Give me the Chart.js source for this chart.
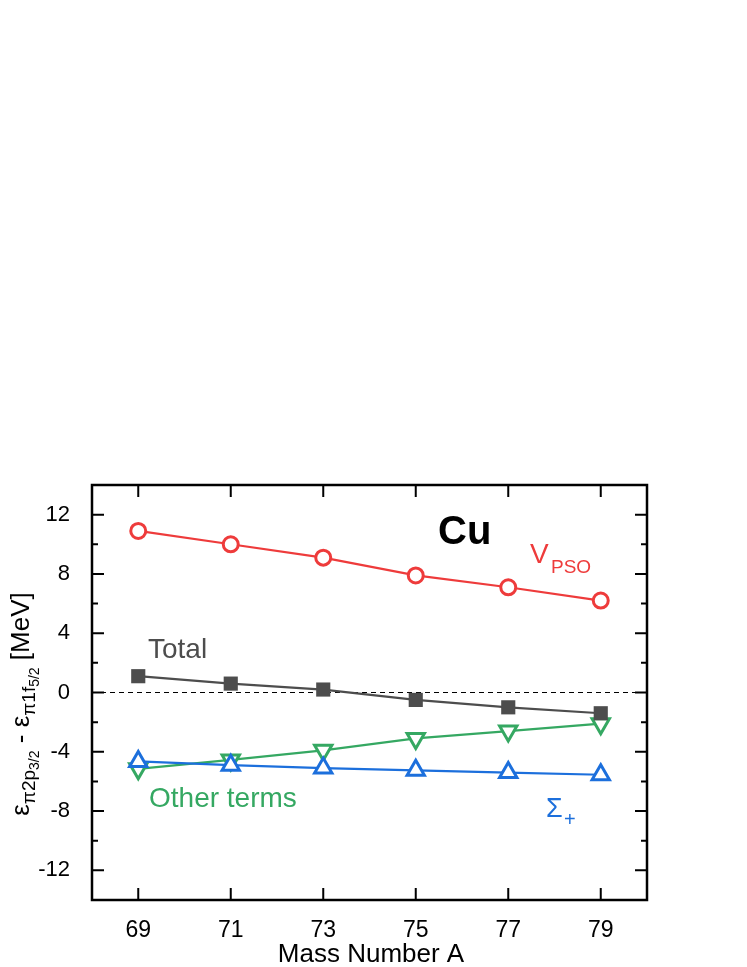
<!DOCTYPE html>
<html>
<head>
<meta charset="utf-8">
<script src="https://cdn.jsdelivr.net/npm/chart.js@4/dist/chart.umd.min.js"></script>
<style>
  html, body { margin: 0; padding: 0; background: #fff; }
  #wrap { width: 747px; height: 967px; }
</style>
</head>
<body>
<div id="wrap"><canvas id="myChart" width="747" height="967"></canvas></div>
<script>
// data
let massNumbers = [69, 71, 73, 75, 77, 79];
let vPso = [10.9, 10.0, 9.1, 7.9, 7.1, 6.2];
let total = [1.1, 0.6, 0.2, -0.5, -1.0, -1.4];
let otherTerms = [-5.15, -4.55, -3.9, -3.1, -2.6, -2.1];
let sigmaPlus = [-4.65, -4.9, -5.1, -5.25, -5.4, -5.55];

let yTickLabels = [-12, -8, -4, 0, 4, 8, 12];
let yMinorTicks = [-14, -10, -6, -2, 2, 6, 10, 14];

let red = '#ee3b3b';
let gray = '#4d4d4d';
let green = '#35a862';
let blue = '#1c6fdc';
let font = '"Liberation Sans", Arial, Helvetica, sans-serif';

function pts(ys) {
    return massNumbers.map((x, i) => ({x: x, y: ys[i]}));
}

// frame, inward ticks, zero line and the text labels
let decorations = {
    id: 'decorations',
    beforeDatasetsDraw(chart) {
        let ctx = chart.ctx;
        let a = chart.chartArea;
        let y0 = chart.scales.y.getPixelForValue(0);
        ctx.save();
        ctx.strokeStyle = '#000';
        ctx.lineWidth = 1;
        ctx.setLineDash([5, 4]);
        ctx.beginPath();
        ctx.moveTo(a.left, y0);
        ctx.lineTo(a.right, y0);
        ctx.stroke();
        ctx.restore();
    },
    afterDraw(chart) {
        let ctx = chart.ctx;
        let a = chart.chartArea;
        let xs = chart.scales.x, ys = chart.scales.y;
        ctx.save();
        ctx.strokeStyle = '#000';
        ctx.lineWidth = 2.5;
        ctx.strokeRect(a.left, a.top, a.right - a.left, a.bottom - a.top);

        ctx.lineWidth = 2;
        ctx.beginPath();
        massNumbers.forEach(v => {
            let px = xs.getPixelForValue(v);
            ctx.moveTo(px, a.bottom); ctx.lineTo(px, a.bottom - 12);
            ctx.moveTo(px, a.top); ctx.lineTo(px, a.top + 12);
        });
        yTickLabels.forEach(v => {
            let py = ys.getPixelForValue(v);
            ctx.moveTo(a.left, py); ctx.lineTo(a.left + 12, py);
            ctx.moveTo(a.right, py); ctx.lineTo(a.right - 12, py);
        });
        yMinorTicks.forEach(v => {
            let py = ys.getPixelForValue(v);
            ctx.moveTo(a.left, py); ctx.lineTo(a.left + 6, py);
            ctx.moveTo(a.right, py); ctx.lineTo(a.right - 6, py);
        });
        ctx.stroke();

        ctx.textBaseline = 'alphabetic';
        ctx.textAlign = 'left';

        ctx.fillStyle = '#000';
        ctx.font = 'bold 40px ' + font;
        ctx.fillText('Cu', 438, 544);

        ctx.fillStyle = red;
        ctx.font = '28px ' + font;
        ctx.fillText('V', 530, 563);
        ctx.font = '19px ' + font;
        ctx.fillText('PSO', 551, 573);

        ctx.fillStyle = gray;
        ctx.font = '28px ' + font;
        ctx.fillText('Total', 148, 658);

        ctx.fillStyle = green;
        ctx.fillText('Other terms', 149, 807);

        ctx.fillStyle = blue;
        ctx.font = '27px ' + font;
        ctx.fillText('\u03A3', 546, 817);
        ctx.font = '20px ' + font;
        ctx.fillText('+', 564, 826);

        // x title
        ctx.fillStyle = '#000';
        ctx.font = '26px ' + font;
        ctx.textAlign = 'center';
        ctx.fillText('Mass Number A', 371, 962);

        // y title, rotated, with subscripts
        let parts = [
            ['\u03B5', 26, 0],
            ['\u03C02p', 19, 6],
            ['3/2', 14, 10],
            [' - ', 26, 0],
            ['\u03B5', 26, 0],
            ['\u03C01f', 19, 6],
            ['5/2', 14, 10],
            [' [MeV]', 26, 0]
        ];
        ctx.textAlign = 'left';
        let w = 0;
        parts.forEach(p => { ctx.font = p[1] + 'px ' + font; w += ctx.measureText(p[0]).width; });
        ctx.translate(29, 704);
        ctx.rotate(-Math.PI / 2);
        let cx = -w / 2;
        parts.forEach(p => {
            ctx.font = p[1] + 'px ' + font;
            ctx.fillText(p[0], cx, p[2]);
            cx += ctx.measureText(p[0]).width;
        });
        ctx.restore();
    }
};

let ctx = document.getElementById('myChart').getContext('2d');
let chart = new Chart(ctx, {
    type: 'line',
    data: {
        datasets: [
            {
                label: 'VPSO', data: pts(vPso),
                borderColor: red, backgroundColor: '#fff', borderWidth: 2.2,
                pointStyle: 'circle', pointRadius: 7.5, pointBorderWidth: 3
            },
            {
                label: 'Total', data: pts(total),
                borderColor: gray, backgroundColor: gray, borderWidth: 2.2,
                pointStyle: 'rect', pointRadius: 10, pointBorderWidth: 0
            },
            {
                label: 'Sigma+', data: pts(sigmaPlus),
                borderColor: blue, backgroundColor: '#fff', borderWidth: 2.2,
                pointStyle: 'triangle', pointRadius: 10, pointBorderWidth: 3
            },
            {
                label: 'Other terms', data: pts(otherTerms),
                borderColor: green, backgroundColor: '#fff', borderWidth: 2.2,
                pointStyle: 'triangle', pointRotation: 180, pointRadius: 10, pointBorderWidth: 3
            }
        ]
    },
    options: {
        responsive: false,
        animation: false,
        layout: { padding: { top: 485, right: 100, left: 0, bottom: 0 } },
        plugins: { legend: { display: false }, tooltip: { enabled: false } },
        scales: {
            x: {
                type: 'linear', min: 68, max: 80,
                afterBuildTicks: s => { s.ticks = massNumbers.map(v => ({value: v})); },
                afterFit: s => { s.height = 67; },
                grid: { display: false }, border: { display: false },
                ticks: { color: '#000', padding: 9, font: { size: 23, family: font } }
            },
            y: {
                type: 'linear', min: -14, max: 14,
                afterBuildTicks: s => { s.ticks = yTickLabels.map(v => ({value: v})); },
                afterFit: s => { s.width = 92; },
                grid: { display: false }, border: { display: false },
                ticks: { color: '#000', padding: 14, font: { size: 22, family: font } }
            }
        }
    },
    plugins: [decorations]
});
</script>
</body>
</html>
